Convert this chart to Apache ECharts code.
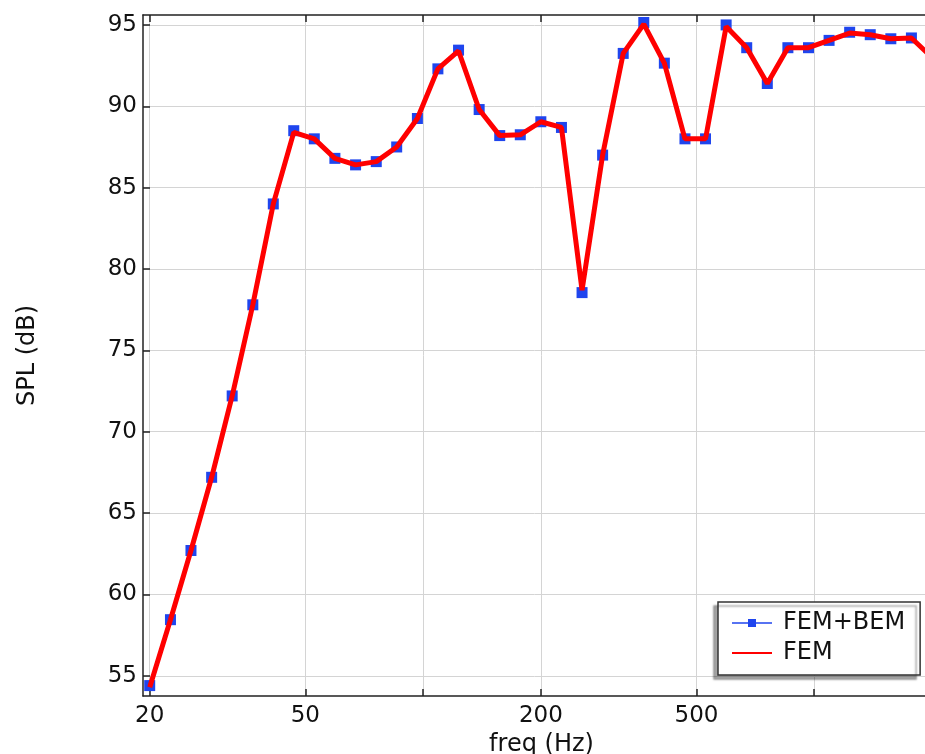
<!DOCTYPE html>
<html>
<head>
<meta charset="utf-8">
<script src="https://cdn.jsdelivr.net/npm/echarts@6/dist/echarts.min.js"></script>
<style>
  html, body { margin: 0; padding: 0; background: #fff; overflow: hidden; }
  #chart { width: 925px; height: 754px; }
</style>
</head>
<body>
<div id="chart"></div>
<script>
// SPL vs frequency, FEM+BEM vs FEM.

const freqs = [
  20, 22.6, 25.5, 28.8, 32.5, 36.7, 41.4, 46.7, 52.7, 59.5,
  67.2, 75.9, 85.6, 96.7, 109.1, 123.2, 139.1, 157.0, 177.2, 200,
  225.8, 254.9, 287.7, 324.8, 366.6, 413.8, 467.2, 527.3, 595.3, 672.0,
  758.6, 856.3, 966.6, 1091.2, 1231.8, 1390.5, 1569.6, 1771.9, 2000,
];
const splFemBem = [
  54.4, 58.45, 62.7, 67.2, 72.2, 77.8, 84.0, 88.5, 88.0, 86.8,
  86.4, 86.6, 87.5, 89.25, 92.3, 93.45, 89.8, 88.2, 88.25, 89.05,
  88.7, 78.55, 87.0, 93.25, 95.15, 92.65, 88.0, 88.0, 95.0, 93.6,
  91.4, 93.6, 93.6, 94.05, 94.55, 94.4, 94.15, 94.2, 93.0,
];
const splFem = [
  54.3, 58.45, 62.7, 67.2, 72.2, 77.8, 84.0, 88.4, 88.0, 86.8,
  86.4, 86.6, 87.5, 89.25, 92.3, 93.4, 89.8, 88.2, 88.25, 89.05,
  88.7, 78.7, 87.0, 93.25, 95.05, 92.65, 88.0, 88.0, 94.9, 93.6,
  91.4, 93.6, 93.6, 94.05, 94.5, 94.4, 94.15, 94.2, 93.0,
];
const xTickFreqs = [20, 50, 100, 200, 500, 1000, 2000];
const xLabelFreqs = [20, 50, 200, 500];
const yTicks = [55, 60, 65, 70, 75, 80, 85, 90, 95];

const FONT = "DejaVu Sans";
const BLUE = "#1f45ee";
const RED = "#ff0000";

// x 轴用 log10(freq) 的数值轴来画对数刻度；原图右侧被裁掉，绘图区延伸到画布外
const lg = (f) => Math.log10(f);
const xMin = 1.2839;
const xMax = 3.3215;

const axisLineStyle = { color: "#222", width: 1.5 };

const option = {
  animation: false,
  backgroundColor: "#fff",
  grid: { left: 143, right: -15, top: 15, bottom: 58, outerBoundsMode: "none", containLabel: false },
  legend: {
    orient: "vertical",
    left: 718,
    top: 602,
    padding: [9, 15, 10, 13],
    itemWidth: 40,
    itemHeight: 10,
    itemGap: 6,
    backgroundColor: "#fff",
    borderColor: "#333",
    borderWidth: 1.5,
    shadowColor: "rgba(0,0,0,0.35)",
    shadowBlur: 2,
    shadowOffsetX: -4,
    shadowOffsetY: 4,
    textStyle: { fontFamily: FONT, fontSize: 24, color: "#111", padding: [0, 0, 0, 6] },
    data: [
      { name: "FEM+BEM", lineStyle: { width: 1.5, color: BLUE }, itemStyle: { color: BLUE } },
      { name: "FEM", lineStyle: { width: 2, color: RED }, itemStyle: { opacity: 0 } },
    ],
  },
  xAxis: [
    {
      type: "value",
      min: xMin,
      max: xMax,
      name: "freq (Hz)",
      nameLocation: "middle",
      nameGap: 34,
      nameTextStyle: { fontFamily: FONT, fontSize: 24, color: "#111" },
      axisLine: { lineStyle: axisLineStyle },
      axisTick: { inside: true, length: 7, lineStyle: axisLineStyle, customValues: xTickFreqs.map(lg) },
      axisLabel: {
        fontFamily: FONT, fontSize: 23, color: "#111", margin: 9,
        customValues: xLabelFreqs.map(lg),
        formatter: (v) => String(Math.round(Math.pow(10, v))),
      },
      splitLine: { show: true, lineStyle: { color: "#d4d4d4", width: 1 } },
    },
    {
      type: "value",
      position: "top",
      min: xMin,
      max: xMax,
      axisLine: { lineStyle: axisLineStyle },
      axisTick: { inside: true, length: 7, lineStyle: axisLineStyle, customValues: xTickFreqs.map(lg) },
      axisLabel: { show: false },
      splitLine: { show: false },
    },
  ],
  yAxis: {
    type: "value",
    min: 53.76,
    max: 95.61,
    name: "SPL (dB)",
    nameLocation: "middle",
    nameGap: 103,
    nameTextStyle: { fontFamily: FONT, fontSize: 24, color: "#111" },
    axisLine: { show: true, lineStyle: axisLineStyle },
    axisTick: { show: true, inside: true, length: 7, lineStyle: axisLineStyle, customValues: yTicks },
    axisLabel: { fontFamily: FONT, fontSize: 23, color: "#111", margin: 6, customValues: yTicks },
    splitLine: { show: true, lineStyle: { color: "#d4d4d4", width: 1 } },
  },
  series: [
    {
      name: "FEM+BEM",
      type: "line",
      z: 2,
      symbol: "rect",
      symbolSize: 11,
      itemStyle: { color: BLUE },
      lineStyle: { color: BLUE, width: 1.5 },
      data: freqs.map((f, i) => [lg(f), splFemBem[i]]),
    },
    {
      name: "FEM",
      type: "line",
      z: 3,
      symbol: "none",
      itemStyle: { color: RED },
      lineStyle: { color: RED, width: 5 },
      data: freqs.map((f, i) => [lg(f), splFem[i]]),
    },
  ],
};

const chart = echarts.init(document.getElementById("chart"));
chart.setOption(option);
</script>
</body>
</html>
